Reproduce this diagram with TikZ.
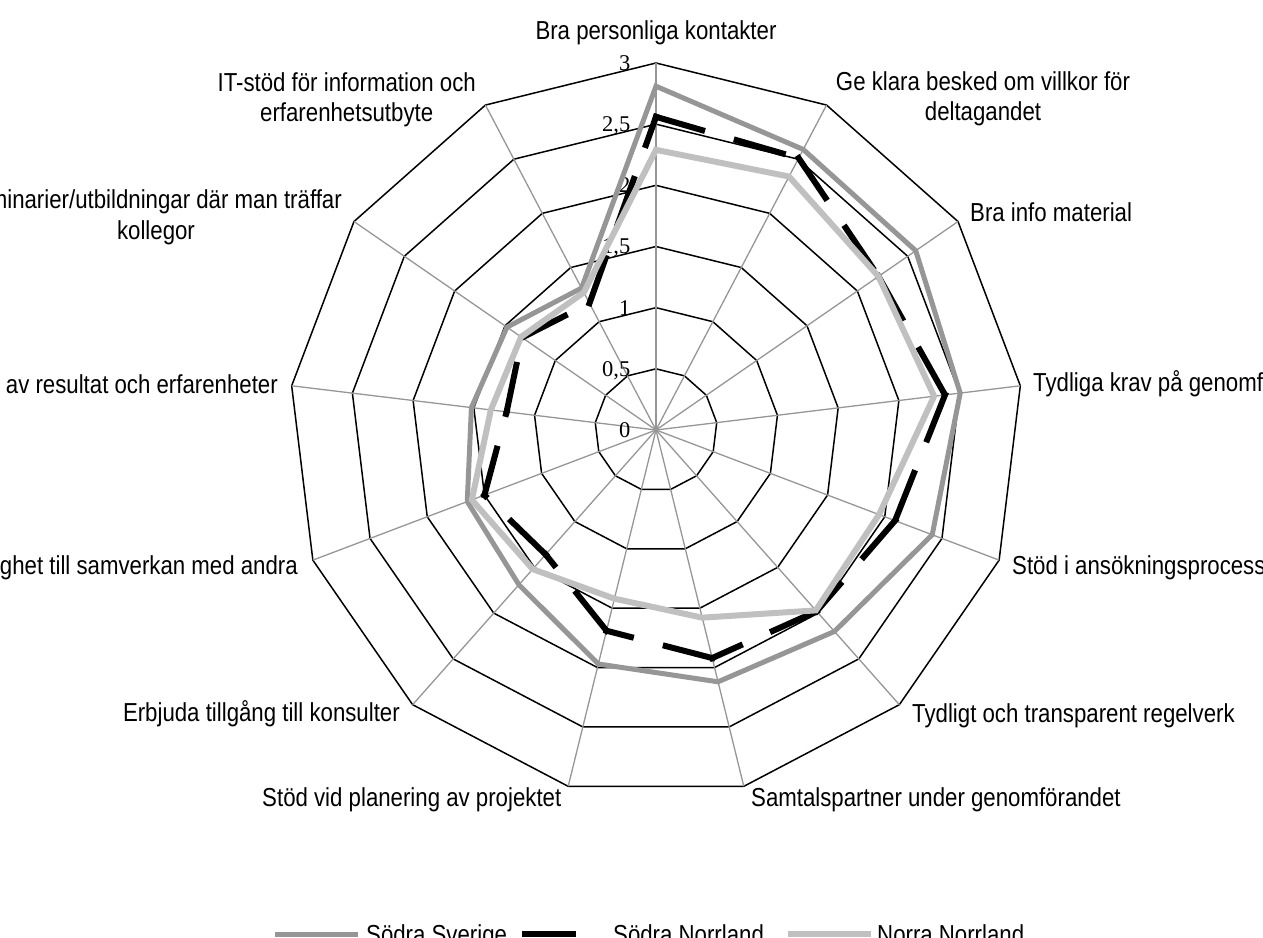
\documentclass[tikz,border=0pt]{standalone}
\usepackage{fontspec}
\setmainfont{Liberation Sans}[FakeStretch=0.855]
\newfontfamily\tickfont{Liberation Serif}
\definecolor{seriesmid}{RGB}{150,150,150}
\definecolor{serieslight}{RGB}{192,192,192}
\definecolor{spokegray}{RGB}{150,150,150}
\begin{document}
\begin{tikzpicture}[x=1pt,y=1pt,
  ringline/.style={black,line width=1.5pt,line join=miter},
  spokeline/.style={spokegray,line width=1.3pt},
  ticklabel/.style={font=\tickfont\fontsize{22.5}{22.5}\selectfont,anchor=base east,inner sep=0pt},
  catlabel/.style={font=\fontsize{26}{30}\selectfont,inner sep=0pt},
  lineSverige/.style={seriesmid,line width=5pt,line join=miter},
  lineSNorrland/.style={black,line width=6pt,line cap=rect,dash pattern=on 48pt off 36pt},
  lineNNorrland/.style={serieslight,line width=6pt,line join=miter},
]
\useasboundingbox (-656,-507) rectangle (607,430);
\def\U{122.3333}
\coordinate (ctr) at (0,0);

% concentric 13-gon rings, one per 0.5 step
\foreach \k in {1,...,6}{
  \draw[ringline] (90:{\k*0.5*\U})
    \foreach \i in {1,...,12}{ -- ({90-\i*360/13}:{\k*0.5*\U}) } -- cycle;
}
% spokes
\foreach \i in {0,...,12}{
  \coordinate (ax\i) at ({90-\i*360/13}:{3*\U});
  \draw[spokeline] (ctr) -- (ax\i);
}

% scale labels
\foreach \v/\t [count=\n] in {0/0,0.5/{0,5},1/1,1.5/{1,5},2/2,2.5/{2,5},3/3}
  \node[ticklabel] (tick\n) at (-25.5,{\v*\U-7.4}) {\t};

% category labels
\node[catlabel,anchor=base] (c0) at (0,390) {Bra personliga kontakter};
\node[catlabel,anchor=base] (c1a) at (327,339) {Ge klara besked om villkor för};
\node[catlabel,anchor=base] (c1b) at (327,309) {deltagandet};
\node[catlabel,anchor=base west] (c2) at (314,208) {Bra info material};
\node[catlabel,anchor=base west] (c3) at (377,39) {Tydliga krav på genomförandet};
\node[catlabel,anchor=base west] (c4) at (356,-144) {Stöd i ansökningsprocessen};
\node[catlabel,anchor=base west] (c5) at (256,-292) {Tydligt och transparent regelverk};
\node[catlabel,anchor=base west] (c6) at (95,-376) {Samtalspartner under genomförandet};
\node[catlabel,anchor=base east] (c7) at (-94.5,-376) {Stöd vid planering av projektet};
\node[catlabel,anchor=base east] (c8) at (-256,-291) {Erbjuda tillgång till konsulter};
\node[catlabel,anchor=base east] (c9) at (-358,-144) {Möjlighet till samverkan med andra};
\node[catlabel,anchor=base east] (c10) at (-378,37) {Spridning av resultat och erfarenheter};
\node[catlabel,anchor=base east] (c11a) at (-314,221) {Seminarier/utbildningar där man träffar};
\node[catlabel,anchor=base] (c11b) at (-500,190) {kollegor};
\node[catlabel,anchor=base] (c12a) at (-309.3,338.3) {IT-stöd för information och};
\node[catlabel,anchor=base] (c12b) at (-309.3,308.3) {erfarenhetsutbyte};

% data points
\foreach \v [count=\i from 0] in {2.81,2.59,2.58,2.505,2.415,2.20,2.12,1.97,1.69,1.65,1.52,1.48,1.31}
  \coordinate (sv\i) at ({90-\i*360/13}:{\v*\U});
\foreach \v [count=\i from 0] in {2.56,2.51,2.21,2.38,2.09,1.98,1.92,1.69,1.36,1.50,1.23,1.33,1.17}
  \coordinate (sn\i) at ({90-\i*360/13}:{\v*\U});
\foreach \v [count=\i from 0] in {2.29,2.34,2.21,2.29,1.95,1.97,1.58,1.42,1.52,1.61,1.36,1.34,1.27}
  \coordinate (nn\i) at ({90-\i*360/13}:{\v*\U});

% series
\draw[lineSverige] (sv0) \foreach \i in {1,...,12}{ -- (sv\i) } -- cycle;
\foreach \i in {0,...,12}{
  \pgfmathtruncatemacro{\j}{mod(\i+1,13)}
  \draw[lineSNorrland] (sn\i) -- (sn\j);
}
\draw[lineNNorrland] (nn0) \foreach \i in {1,...,12}{ -- (nn\i) } -- cycle;

% legend
\coordinate (lgA1) at (-381,-504); \coordinate (lgA2) at (-298,-504);
\coordinate (lgB1) at (-130.5,-504); \coordinate (lgB2) at (-47.5,-504);
\coordinate (lgC1) at (132,-504); \coordinate (lgC2) at (215,-504);
\draw[lineSverige] (lgA1) -- (lgA2);
\draw[lineSNorrland] (lgB1) -- (lgB2);
\draw[lineNNorrland] (lgC1) -- (lgC2);
\node[catlabel,anchor=base west] (lgtA) at (-290,-513) {Södra Sverige};
\node[catlabel,anchor=base west] (lgtB) at (-43,-513) {Södra Norrland};
\node[catlabel,anchor=base west] (lgtC) at (221,-513) {Norra Norrland};
\end{tikzpicture}
\end{document}
